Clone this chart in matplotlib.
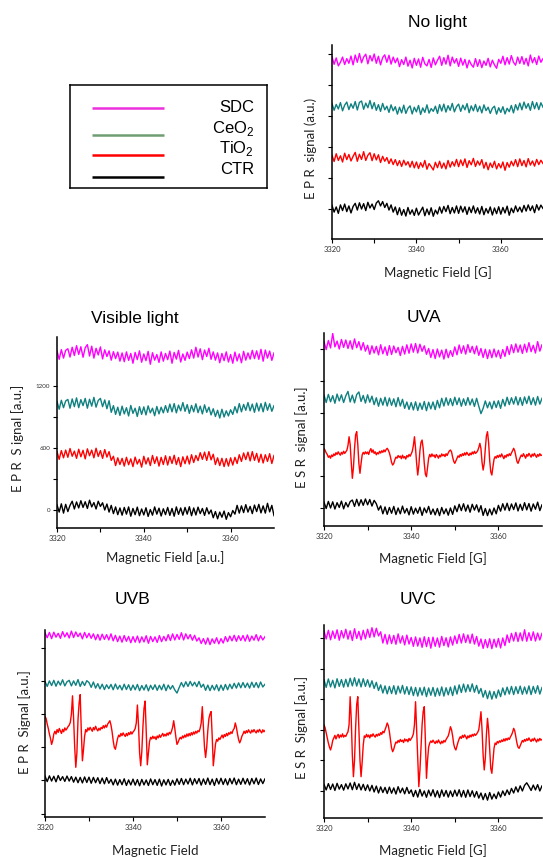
"""
EPR spectra of SDC / CeO2 / TiO2 / control under different light conditions.
Five stacked-trace panels plus a stand-alone legend box, pure matplotlib.
"""
import numpy as np
import matplotlib
matplotlib.use("Agg")
import matplotlib.pyplot as plt

plt.rcParams["font.family"] = "Liberation Sans"
plt.rcParams["mathtext.fontset"] = "custom"
plt.rcParams["mathtext.rm"] = "Liberation Sans"

W, H = 543, 857
FIELD = (3320, 3370)
COLORS = ["#FF00FF", "#0F8080", "#FF0000", "#000000"]
LEGEND_COLORS = ["#EC30DC", "#6E9E72", "#FF0000", "#000000"]
LEGEND_LABELS = ["SDC", "CeO$_2$", "TiO$_2$", "CTR"]

# ---------------- No light ----------------
nolight_sdc = [1475, 1400, 1462, 1385, 1420, 1470, 1398, 1455, 1410, 1480,
               1395, 1490, 1420, 1505, 1415, 1470, 1498, 1405, 1485, 1432,
               1500, 1410, 1478, 1395, 1465, 1492, 1420, 1488, 1402, 1470,
               1415, 1460, 1378, 1445, 1398, 1470, 1382, 1440, 1365, 1458,
               1390, 1452, 1372, 1468, 1405, 1385, 1448, 1370, 1462, 1395,
               1440, 1478, 1390, 1465, 1402, 1488, 1385, 1470, 1412, 1455,
               1380, 1460, 1392, 1448, 1365, 1440, 1398, 1372, 1455, 1380,
               1445, 1368, 1432, 1390, 1458, 1375, 1440, 1395, 1362, 1448,
               1410, 1478, 1395, 1465, 1402, 1485, 1420, 1392, 1470, 1408,
               1475, 1400, 1458, 1385, 1490, 1415, 1465, 1398, 1480, 1420, 1455]
nolight_ceo2 = [1020, 955, 1012, 968, 1030, 950, 1005, 1035, 962, 1018,
                975, 1040, 958, 1032, 1045, 965, 1025, 980, 1050, 970,
                1030, 955, 1010, 945, 1022, 960, 995, 935, 1008, 950,
                990, 918, 985, 930, 1005, 925, 975, 998, 920, 985,
                940, 1002, 915, 978, 935, 1008, 928, 972, 945, 995,
                925, 1010, 948, 1015, 938, 1000, 955, 1022, 940, 990,
                1015, 945, 1005, 960, 1020, 932, 998, 950, 1012, 942,
                995, 930, 1008, 952, 985, 925, 975, 995, 918, 980,
                935, 990, 920, 975, 942, 1002, 930, 1010, 958, 1025,
                960, 1035, 975, 1020, 955, 1040, 970, 1030, 962, 1028, 985]
nolight_tio2 = [520, 460, 535, 470, 515, 455, 540, 478, 528, 465,
                510, 548, 462, 530, 480, 555, 470, 520, 545, 468,
                535, 475, 525, 450, 510, 462, 498, 440, 485, 430,
                478, 420, 468, 412, 472, 425, 458, 405, 462, 398,
                455, 392, 448, 405, 470, 385, 440, 410, 378, 452,
                400, 462, 395, 445, 388, 470, 405, 458, 415, 480,
                410, 475, 420, 485, 402, 468, 428, 490, 412, 465,
                425, 478, 395, 452, 380, 445, 402, 462, 388, 440,
                398, 455, 375, 450, 405, 462, 418, 478, 410, 485,
                420, 470, 408, 488, 425, 465, 415, 480, 430, 472, 440]
nolight_ctr = [35, -30, 20, -42, 40, -15, 48, -25, 30, -38,
               25, 55, -10, 60, 0, 52, -15, 65, 10, 48,
               -5, 58, 80, 30, 72, 15, 55, -10, 40, -30,
               20, -55, 12, -60, -5, -68, 15, -50, -8, -62,
               8, -58, -20, 18, -65, 0, -55, 12, -70, -10,
               -48, 20, -40, 25, -25, 35, -45, 15, -38, 30,
               -42, 28, -30, 22, -52, 18, -35, 30, -40, 12,
               -48, 25, -55, 5, -40, 20, -58, 10, -45, 22,
               -50, 15, -38, 28, -60, 8, -35, 30, -25, 18,
               -30, 35, -20, 40, -15, 30, -35, 42, -10, 38, 5]

# ---------------- Visible light ----------------
vis_sdc = [1540, 1458, 1552, 1470, 1545, 1560, 1480, 1575, 1495, 1590,
           1505, 1580, 1478, 1570, 1600, 1490, 1585, 1470, 1565, 1500,
           1578, 1462, 1550, 1485, 1540, 1450, 1532, 1465, 1528, 1440,
           1520, 1435, 1530, 1448, 1515, 1420, 1525, 1455, 1540, 1430,
           1510, 1445, 1535, 1410, 1522, 1450, 1505, 1428, 1530, 1440,
           1515, 1455, 1538, 1420, 1525, 1460, 1545, 1432, 1510, 1448,
           1528, 1465, 1550, 1470, 1575, 1480, 1560, 1455, 1548, 1485,
           1565, 1458, 1530, 1450, 1520, 1425, 1515, 1445, 1530, 1432,
           1505, 1420, 1528, 1442, 1510, 1425, 1535, 1450, 1520, 1460,
           1545, 1465, 1540, 1458, 1555, 1440, 1548, 1470, 1538, 1448, 1520]
vis_ceo2 = [1050, 975, 1062, 990, 1055, 1070, 985, 1075, 1000, 1085,
            990, 1068, 1010, 1080, 985, 1072, 1005, 1090, 995, 1060,
            1080, 1000, 1065, 980, 1058, 945, 1010, 925, 995, 915,
            1005, 930, 990, 910, 1012, 935, 985, 905, 1000, 925,
            998, 920, 1008, 940, 985, 912, 1002, 930, 995, 940,
            1010, 945, 1025, 950, 1030, 940, 1015, 960, 1040, 955,
            1020, 935, 1012, 950, 1028, 942, 1005, 930, 1018, 945,
            995, 920, 980, 905, 965, 890, 975, 900, 960, 910,
            970, 925, 1000, 940, 1030, 950, 1022, 965, 1040, 960,
            1025, 945, 1035, 958, 1030, 950, 1042, 965, 1028, 955, 1010]
vis_tio2 = [565, 490, 575, 505, 580, 510, 595, 520, 570, 500,
            588, 515, 578, 495, 592, 525, 580, 505, 598, 518,
            575, 500, 585, 512, 565, 480, 520, 430, 505, 440,
            500, 425, 510, 438, 495, 420, 512, 445, 490, 415,
            520, 445, 505, 430, 528, 450, 515, 425, 510, 440,
            525, 435, 518, 450, 530, 440, 508, 420, 515, 448,
            522, 445, 535, 460, 528, 478, 555, 490, 560, 480,
            565, 485, 540, 440, 505, 430, 500, 420, 498, 425,
            505, 435, 510, 450, 535, 470, 552, 488, 560, 475,
            565, 480, 548, 462, 540, 455, 535, 470, 545, 450, 528]
vis_ctr = [50, -20, 60, -30, 55, -15, 45, 85, 10, 78,
           20, 90, 25, 80, 15, 95, 30, 72, 10, 85,
           35, 70, 0, 58, -20, 45, -35, 30, -45, 20,
           -50, 25, -40, 30, -60, 15, -45, 28, -55, 10,
           -48, 22, -62, 5, -50, 30, -40, 18, -58, 12,
           -45, 25, -52, 15, -60, 30, -42, 20, -50, 25,
           -40, 32, -55, 20, -48, 28, -35, 15, -52, 22,
           -38, 0, -75, -15, -85, -20, -70, -10, -90, -25,
           -65, -5, -40, 45, -30, 40, -25, 52, -20, 35,
           -35, 48, -15, 55, -28, 40, -30, 65, -18, 45, -55]

# ---------------- UVA ----------------
uva_sdc = [1570, 1495, 1580, 1510, 1647, 1520, 1575, 1500, 1590, 1515,
           1585, 1505, 1578, 1498, 1595, 1512, 1570, 1490, 1560, 1480,
           1535, 1450, 1530, 1462, 1525, 1445, 1540, 1455, 1520, 1440,
           1532, 1448, 1528, 1465, 1515, 1438, 1525, 1452, 1540, 1460,
           1548, 1470, 1552, 1462, 1545, 1478, 1530, 1450, 1505, 1420,
           1495, 1410, 1500, 1425, 1490, 1405, 1498, 1418, 1485, 1430,
           1520, 1445, 1538, 1460, 1530, 1452, 1542, 1468, 1525, 1455,
           1528, 1440, 1505, 1420, 1498, 1410, 1492, 1418, 1500, 1425,
           1488, 1412, 1495, 1430, 1525, 1448, 1540, 1465, 1548, 1470,
           1538, 1458, 1545, 1470, 1560, 1475, 1535, 1462, 1570, 1480, 1540]
uva_ceo2 = [1065, 995, 1072, 1002, 1060, 988, 1075, 1010, 1068, 995,
            1058, 1100, 1000, 1065, 992, 1070, 1095, 1005, 1062, 990,
            1068, 998, 1055, 975, 1040, 960, 1035, 970, 1045, 962,
            1038, 968, 1030, 955, 1042, 962, 1025, 940, 1000, 930,
            995, 925, 1002, 920, 990, 930, 1005, 918, 998, 935,
            1000, 928, 1015, 945, 1035, 962, 1040, 970, 1032, 965,
            1045, 975, 1038, 960, 1030, 968, 1042, 972, 1028, 958,
            1035, 960, 890, 940, 1010, 945, 1000, 935, 1008, 948,
            1012, 940, 1025, 962, 1045, 975, 1040, 980, 1050, 972,
            1042, 968, 1048, 985, 1055, 975, 1040, 970, 1052, 980, 1035]
uva_tio2 = [560, 545, 520, 505, 478, 492, 470, 500, 485, 510,
            495, 522, 505, 530, 512, 498, 525, 508, 535, 515,
            530, 545, 590, 672, 600, 430, 280, 380, 560, 690,
            720, 600, 420, 327, 420, 500, 525, 508, 530, 512,
            528, 505, 540, 560, 525, 548, 515, 530, 502, 522,
            510, 535, 518, 540, 525, 548, 530, 552, 563, 545,
            520, 480, 430, 405, 420, 455, 480, 470, 495, 478,
            490, 465, 498, 472, 485, 462, 495, 480, 505, 488,
            510, 535, 590, 672, 560, 420, 311, 400, 540, 620,
            641, 560, 420, 320, 295, 380, 470, 505, 482, 510,
            488, 500, 475, 505, 490, 470, 498, 482, 510, 492,
            505, 485, 512, 495, 520, 538, 547, 530, 480, 440,
            421, 445, 470, 492, 478, 505, 488, 512, 495, 520,
            500, 525, 508, 495, 518, 502, 528, 510, 535, 515,
            525, 540, 570, 610, 560, 430, 358, 420, 560, 680,
            720, 620, 450, 340, 311, 390, 460, 485, 470, 495,
            478, 500, 482, 510, 488, 465, 495, 478, 505, 490,
            512, 495, 520, 540, 563, 540, 490, 440, 421, 450,
            478, 500, 485, 512, 492, 470, 505, 488, 515, 498,
            480, 508, 490, 515, 495, 478, 505, 488, 512, 495, 500]
uva_ctr = [55, -5, 62, 0, 58, -10, 50, 5, 65, -8,
           52, 10, 60, 75, 15, 82, 20, 78, 25, 85,
           30, 80, 18, 72, 40, -20, 20, -55, 10, -60,
           5, -50, 15, -62, 0, -55, 18, -48, -5, -65,
           12, -58, -2, -50, 8, -70, 0, -45, 15, -60,
           -10, -65, -5, -72, 5, -55, -8, -68, 0, -60,
           20, -35, 35, -25, 40, -30, 28, -40, 35, -20,
           30, -38, 22, -70, -5, -72, -10, -65, 0, -55,
           25, -30, 40, -20, 45, -25, 38, -15, 48, -28,
           35, -22, 50, -18, 42, -30, 38, -12, 55, -25, 30]

# ---------------- UVB ----------------
uvb_sdc = [1335, 1290, 1338, 1282, 1340, 1295, 1330, 1285, 1345, 1298,
           1335, 1288, 1350, 1292, 1342, 1300, 1332, 1280, 1338, 1290,
           1330, 1285, 1325, 1272, 1320, 1268, 1322, 1275, 1318, 1270,
           1325, 1262, 1312, 1255, 1305, 1250, 1310, 1258, 1302, 1245,
           1300, 1250, 1305, 1245, 1298, 1252, 1308, 1240, 1302, 1255,
           1298, 1248, 1310, 1255, 1302, 1262, 1318, 1265, 1325, 1270,
           1320, 1275, 1335, 1270, 1325, 1280, 1318, 1268, 1312, 1260,
           1290, 1238, 1282, 1232, 1288, 1228, 1280, 1240, 1290, 1235,
           1282, 1242, 1300, 1255, 1305, 1262, 1312, 1258, 1308, 1265,
           1310, 1260, 1315, 1258, 1305, 1268, 1318, 1262, 1308, 1270, 1300]
uvb_ceo2 = [895, 850, 900, 858, 905, 852, 898, 862, 910, 855,
            892, 905, 855, 900, 860, 912, 850, 895, 858, 902,
            885, 842, 890, 835, 875, 828, 870, 822, 865, 830,
            868, 820, 872, 825, 860, 818, 870, 822, 865, 815,
            862, 820, 868, 812, 858, 818, 865, 810, 860, 822,
            865, 815, 860, 820, 870, 812, 862, 825, 858, 818,
            790, 840, 885, 845, 892, 850, 895, 855, 888, 848,
            895, 842, 870, 815, 862, 812, 860, 818, 865, 810,
            862, 815, 868, 820, 870, 830, 878, 835, 882, 838,
            885, 840, 880, 835, 888, 842, 885, 838, 890, 845, 870]
uvb_tio2 = [578, 560, 510, 470, 420, 380, 326, 360, 420, 445,
            420, 460, 435, 470, 448, 425, 462, 440, 475, 455,
            470, 488, 500, 525, 600, 765, 560, 300, 119, 250,
            550, 700, 776, 450, 178, 280, 400, 460, 440, 475,
            455, 480, 462, 445, 478, 458, 490, 465, 448, 472,
            455, 480, 468, 495, 475, 500, 482, 510, 525, 540,
            500, 440, 360, 300, 282, 330, 380, 410, 395, 425,
            405, 430, 412, 398, 425, 405, 432, 415, 440, 420,
            438, 450, 470, 520, 682, 500, 250, 133, 260, 480,
            650, 718, 450, 142, 250, 350, 390, 375, 400, 380,
            395, 370, 402, 385, 412, 390, 408, 425, 400, 418,
            402, 428, 410, 435, 420, 445, 480, 540, 470, 390,
            326, 345, 372, 390, 375, 402, 385, 410, 392, 420,
            400, 425, 405, 432, 412, 438, 420, 445, 428, 450,
            440, 470, 520, 667, 480, 300, 208, 300, 450, 560,
            600, 623, 400, 133, 230, 330, 371, 355, 385, 370,
            392, 410, 385, 415, 398, 425, 405, 432, 418, 440,
            425, 455, 470, 520, 480, 420, 370, 340, 365, 400,
            420, 445, 425, 450, 432, 458, 440, 428, 455, 438,
            460, 442, 430, 455, 438, 462, 445, 430, 458, 440, 452]
uvb_ctr = [40, -10, 42, -5, 38, -12, 45, 0, 35, -8,
           40, -5, 35, -15, 30, -20, 28, -22, 32, -18,
           30, -25, 28, -20, 25, -28, 22, -30, 26, -25,
           10, -40, 12, -42, 8, -38, 15, -45, 5, -40,
           12, -42, 8, -48, 10, -40, 5, -45, 14, -38,
           8, -44, 12, -50, 6, -40, 10, -45, 2, -42,
           15, -35, 18, -38, 12, -32, 20, -40, 16, -30,
           18, -42, 14, -35, 22, -38, 12, -45, 18, -32,
           20, -36, 15, -40, 18, -30, 22, -38, 12, -35,
           20, -32, 16, -40, 18, -30, 22, -36, 14, -28, 15]

# ---------------- UVC ----------------
uvc_sdc = [1570, 1490, 1575, 1482, 1568, 1495, 1580, 1478, 1572, 1500,
           1585, 1488, 1570, 1475, 1590, 1495, 1565, 1480, 1575, 1492,
           1585, 1505, 1600, 1510, 1595, 1520, 1560, 1450, 1535, 1440,
           1530, 1445, 1525, 1438, 1540, 1450, 1520, 1432, 1528, 1440,
           1505, 1418, 1510, 1420, 1500, 1408, 1512, 1415, 1505, 1400,
           1508, 1418, 1500, 1410, 1515, 1425, 1502, 1412, 1510, 1430,
           1520, 1445, 1535, 1450, 1540, 1455, 1530, 1448, 1538, 1440,
           1515, 1420, 1490, 1398, 1485, 1405, 1492, 1395, 1488, 1410,
           1495, 1402, 1500, 1425, 1530, 1455, 1545, 1470, 1555, 1465,
           1550, 1472, 1580, 1468, 1552, 1475, 1560, 1470, 1548, 1480, 1545]
uvc_ceo2 = [1090, 1015, 1098, 1020, 1085, 1010, 1100, 1025, 1092, 1018,
            1095, 1022, 1105, 1030, 1110, 1028, 1098, 1020, 1100, 1025,
            1090, 1018, 1080, 1005, 1065, 985, 1040, 960, 1030, 952,
            1025, 955, 1032, 948, 1028, 960, 1035, 950, 1022, 945,
            1020, 935, 1015, 930, 1012, 940, 1018, 925, 1010, 938,
            1015, 928, 1008, 935, 1020, 930, 1012, 942, 1018, 935,
            1030, 950, 1040, 965, 1048, 970, 1042, 975, 1050, 968,
            1035, 955, 1005, 920, 985, 905, 980, 900, 975, 910,
            990, 925, 1010, 942, 1018, 950, 1025, 945, 1022, 955,
            1028, 948, 1020, 952, 1030, 945, 1025, 958, 1032, 950, 1015]
uvc_tio2 = [647, 620, 570, 520, 470, 430, 402, 440, 495, 520,
            545, 510, 538, 555, 520, 548, 530, 560, 528, 545,
            535, 560, 580, 650, 924, 700, 350, 140, 300, 620,
            850, 924, 600, 300, 140, 280, 450, 540, 525, 555,
            530, 548, 520, 552, 535, 560, 540, 528, 555, 538,
            560, 545, 572, 555, 585, 570, 600, 630, 666, 640,
            580, 500, 420, 385, 410, 450, 480, 470, 495, 478,
            505, 485, 498, 475, 510, 490, 505, 482, 515, 495,
            512, 530, 560, 650, 875, 600, 300, 42, 200, 420,
            650, 780, 826, 500, 124, 300, 430, 470, 490, 475,
            498, 480, 465, 490, 472, 500, 478, 462, 488, 470,
            495, 480, 505, 522, 540, 580, 630, 600, 540, 460,
            420, 402, 440, 480, 510, 532, 515, 545, 525, 550,
            532, 510, 540, 522, 548, 530, 555, 538, 560, 545,
            558, 575, 600, 680, 777, 600, 350, 206, 320, 550,
            712, 600, 400, 220, 173, 300, 420, 470, 455, 485,
            470, 492, 478, 500, 485, 510, 490, 515, 498, 520,
            505, 530, 548, 575, 614, 590, 530, 470, 430, 418,
            445, 470, 495, 480, 505, 488, 512, 495, 520, 500,
            485, 510, 492, 518, 500, 480, 508, 490, 515, 498, 505]
uvc_ctr = [65, 10, 72, 15, 68, 5, 75, 18, 62, 8,
           70, 20, 78, 12, 85, 15, 70, 10, 65, 5,
           60, 0, 55, -10, 48, -20, 40, -15, 35, -25,
           38, -22, 30, -30, 42, -18, 28, -28, 35, -25,
           10, -55, 5, -60, 15, -50, 0, -62, 8, -48,
           12, -58, 2, -65, 10, -52, 5, -60, 0, -55,
           8, -50, 12, -58, 5, -62, 10, -55, 2, -60,
           -5, -70, -20, -85, -25, -90, -15, -80, -30, -75,
           -10, -60, 0, -45, 10, -35, 25, -20, 40, -10,
           50, 0, 55, 80, 45, 5, 58, 10, 62, 0, 50]


def frac(l, t, r, b):
    """pixel box (left, top, right, bottom) -> figure fraction rect"""
    return [l / W, 1 - b / H, (r - l) / W, (b - t) / H]


def ftext(fig, x, y, s, **kw):
    fig.text(x / W, 1 - y / H, s, ha="center", va="center", **kw)


def panel(fig, rect, traces, ylim, yticks, ylabels=None, minor_y=None):
    ax = fig.add_axes(rect)
    for vals, color in zip(traces, COLORS):
        ax.plot(np.linspace(*FIELD, len(vals)), vals, color=color, lw=1.0)
    ax.set_xlim(*FIELD)
    ax.set_ylim(*ylim)
    ax.set_xticks([3320, 3340, 3360])
    ax.set_xticks([3330, 3350], minor=True)
    ax.set_yticks(yticks)
    if minor_y is not None:
        ax.set_yticks(minor_y, minor=True)
    if ylabels is None:
        ax.set_yticklabels([])
    for side in ("top", "right"):
        ax.spines[side].set_visible(False)
    for side in ("left", "bottom"):
        ax.spines[side].set_linewidth(1.1)
    ax.tick_params(which="both", direction="out", length=3, width=0.8, pad=2,
                   labelsize=5.5, labelcolor="#333333")
    for lab in ax.get_xticklabels() + ax.get_yticklabels():
        lab.set_fontfamily("Lato")
    ax.tick_params(axis="y", labelsize=4.5)
    ax.patch.set_alpha(0)
    return ax


fig = plt.figure(figsize=(W / 100, H / 100), dpi=100)

ticks = [0, 300, 600, 900, 1200, 1500]
panel(fig, frac(332, 45, 543, 239),
      [nolight_sdc, nolight_ceo2, nolight_tio2, nolight_ctr], (-290, 1587), ticks)
panel(fig, frac(57, 337, 274, 528),
      [vis_sdc, vis_ceo2, vis_tio2, vis_ctr], (-174, 1674), [0, 600, 1200],
      ylabels=True, minor_y=[300, 900])
panel(fig, frac(324, 333, 542, 526),
      [uva_sdc, uva_ceo2, uva_tio2, uva_ctr], (-170, 1651), ticks)
panel(fig, frac(45, 630, 265, 817),
      [uvb_sdc, uvb_ceo2, uvb_tio2, uvb_ctr], (-330, 1360),
      [-300, 0, 300, 600, 900, 1200])
panel(fig, frac(324, 625, 542, 818),
      [uvc_sdc, uvc_ceo2, uvc_tio2, uvc_ctr], (-265, 1627), ticks)

# titles
for x, y, s in [(438, 22, "No light"), (135, 319, "Visible light"), (424, 318, "UVA"),
                (133, 600, "UVB"), (418, 600, "UVC")]:
    ftext(fig, x, y, s, fontsize=12.5)

# axis labels
lab = dict(fontsize=9.5, family="Lato", color="#222222")
for x, y, s in [(438, 273, "Magnetic Field [G]"), (165, 558, "Magnetic Field [a.u.]"),
                (433, 559, "Magnetic Field [G]"), (155, 851, "Magnetic Field"),
                (433, 851, "Magnetic Field [G]")]:
    ftext(fig, x, y, s, **lab)
for x, y, s in [(311, 148, "E P R  signal (a.u.)"), (18, 438, "E P R  S ignal [a.u.]"),
                (302, 437, "E S R  signal [a.u.]"), (25, 722, "E P R  Signal [a.u.]"),
                (302, 727, "E S R  Signal [a.u.]")]:
    ftext(fig, x, y, s, rotation=90, **lab)

# legend box
lg = fig.add_axes(frac(70, 85, 267, 188))
lg.set_xlim(70, 267)
lg.set_ylim(188, 85)
lg.set_xticks([])
lg.set_yticks([])
for sp in lg.spines.values():
    sp.set_linewidth(1.1)
for row_y, text_y, color, label in zip([108, 135, 155, 177], [107, 129, 148, 170],
                                       LEGEND_COLORS, LEGEND_LABELS):
    lg.plot([92, 164], [row_y, row_y], color=color, lw=1.8, solid_capstyle="butt")
    lg.text(254, text_y, label, ha="right", va="center", fontsize=12)

fig.savefig("out.png", dpi=100)
